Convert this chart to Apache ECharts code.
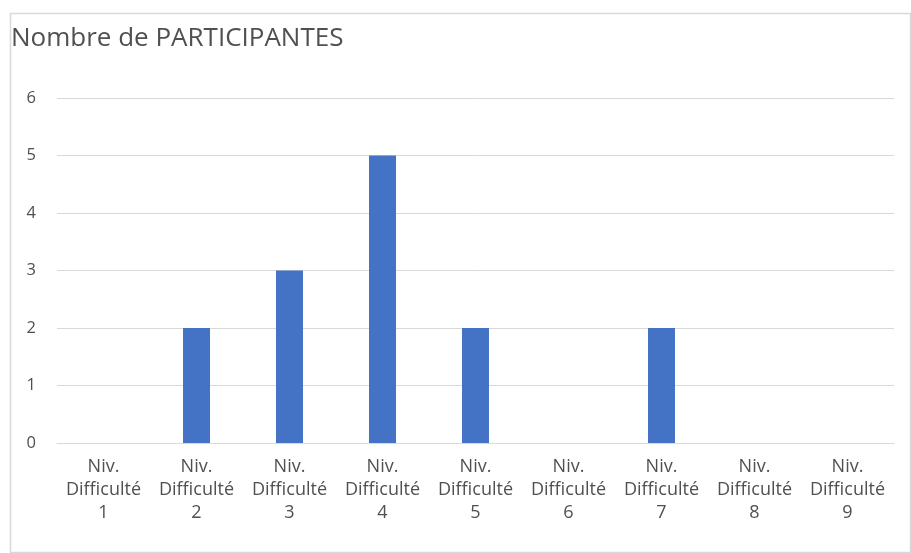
<!DOCTYPE html>
<html>
<head>
<meta charset="utf-8">
<script src="https://cdn.jsdelivr.net/npm/echarts@6/dist/echarts.min.js"></script>
<style>
html,body{margin:0;padding:0;background:#fff;}
#c{width:911px;height:553px;}
</style>
</head>
<body>
<div id="c"></div>
<script>
const titleText = "Nombre de PARTICIPANTES";
const categories = ["Niv.\nDifficulté\n1","Niv.\nDifficulté\n2","Niv.\nDifficulté\n3","Niv.\nDifficulté\n4","Niv.\nDifficulté\n5","Niv.\nDifficulté\n6","Niv.\nDifficulté\n7","Niv.\nDifficulté\n8","Niv.\nDifficulté\n9"];
const participants = [0, 2, 3, 5, 2, 0, 2, 0, 0];
const yTicks = [0, 1, 2, 3, 4, 5, 6];

const chart = echarts.init(document.getElementById('c'));
const font = "'Open Sans', sans-serif";
chart.setOption({
  animation: false,
  backgroundColor: '#fff',
  graphic: [{
    type: 'rect', left: 8, top: 11,
    shape: {width: 900, height: 539},
    style: {fill: 'none', stroke: '#d9d9d9', lineWidth: 1.5},
    silent: true
  }],
  title: {
    text: titleText, left: 6, top: 21,
    textStyle: {fontFamily: font, fontSize: 26, fontWeight: 'normal', color: '#505050'}
  },
  grid: {left: 57, right: 17, top: 98, bottom: 110},
  xAxis: {
    type: 'category', data: categories,
    axisLine: {show: true, lineStyle: {color: '#d9d9d9', width: 1}},
    axisTick: {show: false},
    axisLabel: {color: '#505050', fontFamily: font, fontSize: 18, lineHeight: 23, margin: 12, interval: 0}
  },
  yAxis: {
    type: 'value', min: yTicks[0], max: yTicks[yTicks.length-1], interval: 1,
    axisLine: {show: false}, axisTick: {show: false},
    splitLine: {lineStyle: {color: '#d9d9d9', width: 1}},
    axisLabel: {color: '#505050', fontFamily: font, fontSize: 16.5, margin: 21}
  },
  series: [{
    type: 'bar', data: participants, barWidth: '29%',
    itemStyle: {color: '#4472c4'}
  }]
});
</script>
</body>
</html>
